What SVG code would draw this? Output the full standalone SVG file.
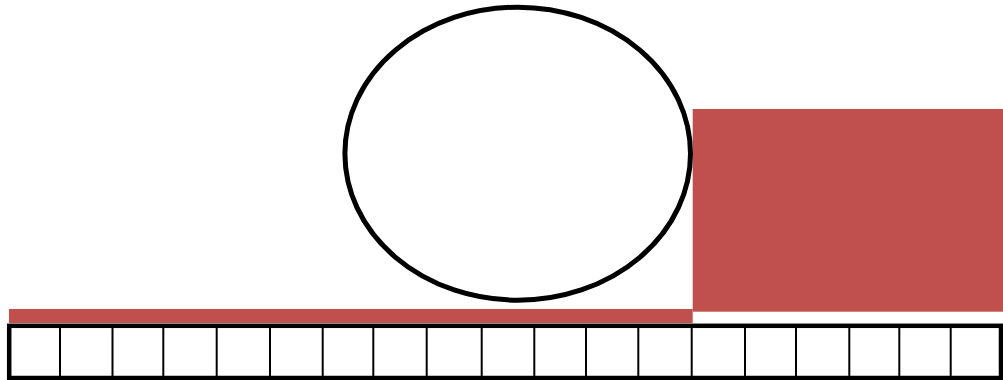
<svg xmlns="http://www.w3.org/2000/svg" width="1003" height="380" viewBox="0 0 1003 380">
<style>
.red{fill:#C0504D;stroke:none}
.div{stroke:#000;stroke-width:2;fill:none}
</style>
<rect width="1003" height="380" fill="#fff"/>
<g id="red-block"><rect class="red" x="692.7" y="109" width="310.3" height="202.7"/></g>
<g id="red-bar"><rect class="red" x="9" y="309" width="683.7" height="14"/></g>
<g id="ellipse"><ellipse cx="517.7" cy="153.7" rx="172.8" ry="146.5" fill="none" stroke="#000" stroke-width="5"/></g>
<g id="grid">
<rect x="9.2" y="325.8" width="991.8" height="52.2" fill="#fff" stroke="#000" stroke-width="4.5"/>
<g class="div">
<line x1="60" y1="327" x2="60" y2="378"/>
<line x1="112.5" y1="327" x2="112.5" y2="378"/>
<line x1="163.3" y1="327" x2="163.3" y2="378"/>
<line x1="216.7" y1="327" x2="216.7" y2="378"/>
<line x1="270" y1="327" x2="270" y2="378"/>
<line x1="322.7" y1="327" x2="322.7" y2="378"/>
<line x1="373.3" y1="327" x2="373.3" y2="378"/>
<line x1="426.7" y1="327" x2="426.7" y2="378"/>
<line x1="481.7" y1="327" x2="481.7" y2="378"/>
<line x1="534.3" y1="327" x2="534.3" y2="378"/>
<line x1="586" y1="327" x2="586" y2="378"/>
<line x1="638.3" y1="327" x2="638.3" y2="378"/>
<line x1="691.7" y1="327" x2="691.7" y2="378"/>
<line x1="745" y1="327" x2="745" y2="378"/>
<line x1="796" y1="327" x2="796" y2="378"/>
<line x1="849.3" y1="327" x2="849.3" y2="378"/>
<line x1="899.3" y1="327" x2="899.3" y2="378"/>
<line x1="950.7" y1="327" x2="950.7" y2="378"/>
</g>
</g>
</svg>
